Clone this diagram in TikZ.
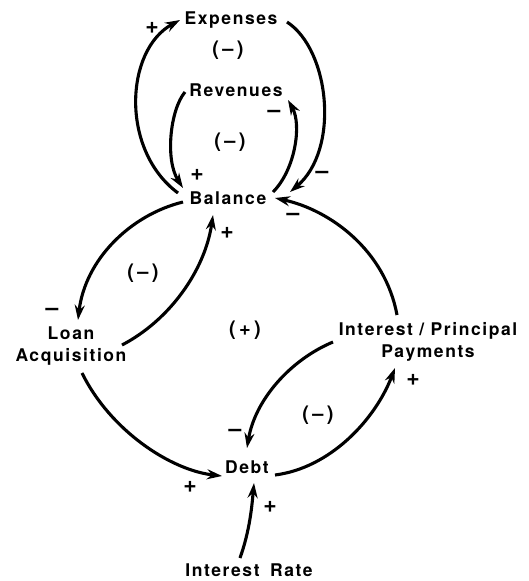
\documentclass[tikz,border=0pt]{standalone}
\usepackage{fontspec}
\setmainfont{TeX Gyre Heros}[LetterSpace=9]
\usetikzlibrary{arrows.meta,calc}
\begin{document}
\begin{tikzpicture}[x=1pt,y=-1pt,
  var/.style={font=\fontsize{17.5}{22}\selectfont\bfseries,inner sep=1pt,align=center},
  pol/.style={font=\fontsize{23}{24}\selectfont\bfseries,inner sep=0pt},
  loop/.style={font=\fontsize{20}{22}\selectfont\bfseries,inner sep=0pt},
  link/.style={line width=3.1pt,-{Stealth[length=15pt,width=10pt]}}]
\useasboundingbox (0,0) rectangle (529,581);
\fill[white] (0,0) rectangle (529,581);
% variables
\node[var] (exp) at (231,20) {Expenses};
\node[var] (rev) at (236,90) {Revenues};
\node[var] (bal) at (228,198) {Balance};
\node[var] (loan) at (71,346) {Loan\\Acquisition};
\node[var] (ip) at (428,342) {Interest / Principal\\Payments};
\node[var] (debt) at (247,467) {Debt};
\node[var] (rate) at (249,570) {Interest\hspace{0.6em}Rate};
% loop labels
\node[loop] (l1) at (228,50) {(\,–\,)};
\node[loop] (l2) at (230,142) {(\,–\,)};
\node[loop] (l3) at (143,273) {(\,–\,)};
\node[loop] (l4) at (245,330) {(\,+\,)};
\node[loop] (l5) at (318,415) {(\,–\,)};
% links
\draw[link] ($(bal)+(-50,-5)$) .. controls +(-58,-43) and +(-55,30) .. ($(exp)+(-51,0)$);
\draw[link] ($(rev)+(-51,2)$) .. controls +(-15,18) and +(-18,-28) .. ($(bal)+(-45,-10)$);
\draw[link] ($(exp)+(56,2)$) .. controls +(43,28) and +(50,-42) .. ($(bal)+(62,-6)$);
\draw[link] ($(bal)+(45,-6)$) .. controls +(22,-22) and +(14,25) .. ($(rev)+(52,10)$);
\draw[link] ($(bal)+(-45,4)$) .. controls +(-53,13) and +(7,-60) .. ($(loan)+(7,-26)$);
\draw[link] ($(loan)+(51,-1)$) .. controls +(48,-25) and +(-8,55) .. ($(bal)+(-15,17)$);
\draw[link] ($(ip)+(-31,-27)$) .. controls +(-12,-65) and +(55,12) .. ($(bal)+(47,0)$);
\draw[link] ($(loan)+(11,27)$) .. controls +(28,57) and +(-52,-6) .. ($(debt)+(-25,9)$);
\draw[link] ($(ip)+(-95,0)$) .. controls +(-43,18) and +(8,-48) .. ($(debt)+(0,-19)$);
\draw[link] ($(debt)+(28,8)$) .. controls +(55,-7) and +(-20,52) .. ($(ip)+(-33,26)$);
\draw[link] ($(rate)+(-9,-12)$) .. controls +(10,-28) and +(-2,22) .. ($(debt)+(7,16)$);
% polarities
\node[pol] (p1) at (152,28) {+};
\node[pol] (p2) at (197,175) {+};
\node[pol] (p3) at (322,175) {–};
\node[pol] (p4) at (274,114) {–};
\node[pol] (p5) at (52,312) {–};
\node[pol] (p6) at (227,233) {+};
\node[pol] (p7) at (293,217) {–};
\node[pol] (p8) at (190,487) {+};
\node[pol] (p9) at (235,433) {–};
\node[pol] (p10) at (413,380) {+};
\node[pol] (p11) at (270,507) {+};
\end{tikzpicture}
\end{document}
